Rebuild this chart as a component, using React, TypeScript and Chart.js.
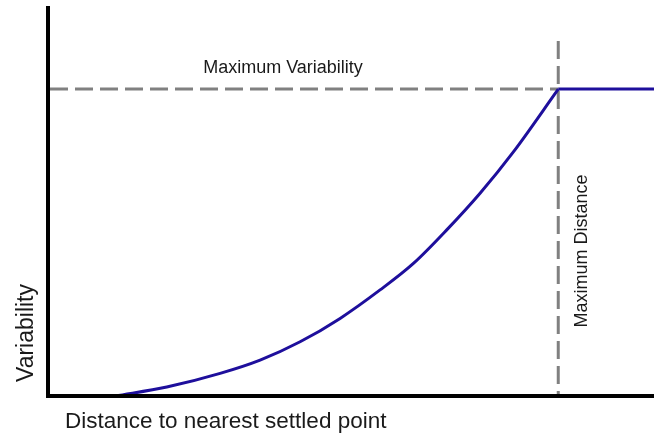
import React, { useEffect, useRef } from "react";
import { Chart, registerables } from "chart.js";

Chart.register(...registerables);

// Distance (x) vs variability (y) (0..100 on both axes)
const curveDistance = [11.1, 19.6, 28.4, 35, 41.6, 48.2, 54.8, 60.3, 65.8, 71.3, 76.8, 84.2];
const curveVariability = [0, 2.3, 5.8, 9.2, 13.9, 19.9, 27.2, 34, 42.6, 52, 62.6, 78.7];
const flatDistance = [84.2, 100];
const flatVariability = [78.7, 78.7];
const maxDistance = 84.2;
const maxVariability = 78.7;
const xTitle = "Distance to nearest settled point";
const yTitle = "Variability";
const maxVarLabel = "Maximum Variability";
const maxDistLabel = "Maximum Distance";

const FONT = '"Liberation Sans", Arial, sans-serif';
const LINE = "#1e0f9c";

const overlay = {
  id: "overlay",
  beforeDatasetsDraw(chart: any) {
    const { ctx, chartArea, scales } = chart;
    const px = scales.x.getPixelForValue(maxDistance);
    const py = scales.y.getPixelForValue(maxVariability);
    ctx.save();
    ctx.strokeStyle = "#808080";
    ctx.lineWidth = 3;
    ctx.setLineDash([18, 7]);
    ctx.beginPath();
    ctx.moveTo(chartArea.left + 2, py);
    ctx.lineTo(px, py);
    ctx.stroke();
    ctx.beginPath();
    ctx.moveTo(px, chartArea.top + 35);
    ctx.lineTo(px, chartArea.bottom);
    ctx.stroke();
    ctx.restore();
  },
  afterDatasetsDraw(chart: any) {
    const { ctx, chartArea, scales } = chart;
    const px = scales.x.getPixelForValue(maxDistance);
    const py = scales.y.getPixelForValue(maxVariability);
    ctx.save();
    // axes
    ctx.strokeStyle = "#000";
    ctx.lineWidth = 4;
    ctx.setLineDash([]);
    ctx.beginPath();
    ctx.moveTo(chartArea.left, chartArea.top);
    ctx.lineTo(chartArea.left, chartArea.bottom + 2);
    ctx.stroke();
    ctx.beginPath();
    ctx.moveTo(chartArea.left - 2, chartArea.bottom);
    ctx.lineTo(chartArea.right, chartArea.bottom);
    ctx.stroke();

    ctx.fillStyle = "#1a1a1a";
    // annotation labels
    ctx.font = `18px ${FONT}`;
    ctx.textAlign = "center";
    ctx.textBaseline = "alphabetic";
    ctx.fillText(maxVarLabel, chartArea.left + 235, py - 16);

    ctx.save();
    ctx.translate(px + 29, 251);
    ctx.rotate(-Math.PI / 2);
    ctx.fillText(maxDistLabel, 0, 0);
    ctx.restore();

    // axis titles
    ctx.font = `22.5px ${FONT}`;
    ctx.textAlign = "left";
    ctx.fillText(xTitle, chartArea.left + 17, chartArea.bottom + 32);

    ctx.save();
    ctx.font = `23px ${FONT}`;
    ctx.translate(chartArea.left - 15, chartArea.bottom - 14);
    ctx.rotate(-Math.PI / 2);
    ctx.fillText(yTitle, 0, 0);
    ctx.restore();

    ctx.restore();
  },
};

export default function App() {
  const ref = useRef<HTMLCanvasElement | null>(null);
  useEffect(() => {
    if (!ref.current) return;
    const chart = new Chart(ref.current, {
      type: "line",
      data: {
        datasets: [
          {
            data: curveDistance.map((d, i) => ({ x: d, y: curveVariability[i] })),
            borderColor: LINE,
            borderWidth: 3,
            pointRadius: 0,
            cubicInterpolationMode: "monotone",
            fill: false,
          },
          {
            data: flatDistance.map((d, i) => ({ x: d, y: flatVariability[i] })),
            borderColor: LINE,
            borderWidth: 3,
            pointRadius: 0,
            tension: 0,
            fill: false,
          },
        ],
      },
      options: {
        responsive: false,
        animation: false,
        layout: { padding: { left: 48, right: 0, top: 6, bottom: 40 } },
        plugins: { legend: { display: false }, tooltip: { enabled: false } },
        scales: {
          x: { type: "linear", min: 0, max: 100, display: false },
          y: { type: "linear", min: 0, max: 100, display: false },
        },
      },
      plugins: [overlay],
    });
    return () => chart.destroy();
  }, []);
  return (
    <div style={{ position: "fixed", left: 0, top: 0, width: 654, height: 436, background: "#fff" }}>
      <canvas ref={ref} width={654} height={436} style={{ display: "block" }} />
    </div>
  );
}
